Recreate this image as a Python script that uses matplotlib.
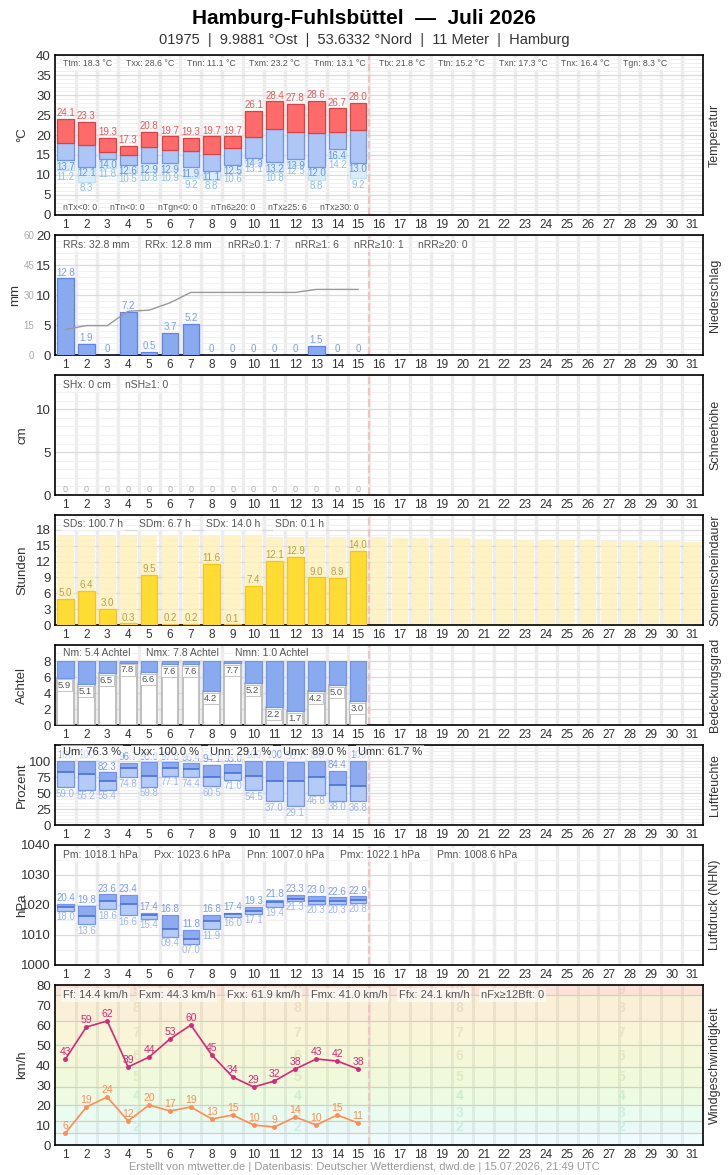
import numpy as np
import matplotlib
matplotlib.use("Agg")
import matplotlib.pyplot as plt
from matplotlib.ticker import MultipleLocator, FixedLocator

plt.rcParams['font.family'] = ['Liberation Sans', 'DejaVu Sans']

# ---------------- data ----------------
days = np.arange(1, 32)
obs = np.arange(1, 16)

# Temperatur
t_max = [24.1, 23.3, 19.3, 17.3, 20.8, 19.7, 19.3, 19.7, 19.7, 26.1, 28.4, 27.8, 28.6, 26.7, 28.0]
t_mean = [18.1, 17.4, 15.8, 15.1, 17.1, 16.3, 16.1, 15.3, 16.8, 19.6, 21.6, 20.8, 20.6, 20.8, 21.3]
t_min = [13.7, 12.1, 14.0, 12.6, 12.9, 12.9, 11.9, 11.1, 12.5, 14.3, 13.2, 13.9, 12.0, 16.4, 13.0]
t_gnd = [11.2, 8.3, 11.8, 10.5, 10.8, 10.9, 9.2, 8.8, 10.6, 13.1, 10.8, 12.5, 8.8, 14.2, 9.2]
temp_stats_top = ["Ttm: 18.3 °C", "Txx: 28.6 °C", "Tnn: 11.1 °C", "Txm: 23.2 °C", "Tnm: 13.1 °C",
                  "Ttx: 21.8 °C", "Ttn: 15.2 °C", "Txn: 17.3 °C", "Tnx: 16.4 °C", "Tgn: 8.3 °C"]
temp_stats_bot = ["nTx<0: 0", "nTn<0: 0", "nTgn<0: 0", "nTn6≥20: 0", "nTx≥25: 6", "nTx≥30: 0"]

# Niederschlag
rain = [12.8, 1.9, 0, 7.2, 0.5, 3.7, 5.2, 0, 0, 0, 0, 0, 1.5, 0, 0]
rain_stats = ["RRs: 32.8 mm", "RRx: 12.8 mm", "nRR≥0.1: 7", "nRR≥1: 6", "nRR≥10: 1", "nRR≥20: 0"]

# Schnee
snow = [0] * 15
snow_stats = ["SHx: 0 cm", "nSH≥1: 0"]

# Sonne
sun = [5.0, 6.4, 3.0, 0.3, 9.5, 0.2, 0.2, 11.6, 0.1, 7.4, 12.1, 12.9, 9.0, 8.9, 14.0]
sun_possible = [17.1, 17.0, 17.0, 17.0, 16.9, 16.9, 16.9, 16.8, 16.8, 16.8, 16.7, 16.7, 16.7, 16.6, 16.6,
                16.6, 16.5, 16.5, 16.4, 16.4, 16.3, 16.3, 16.1, 16.1, 16.1, 16.1, 15.9, 15.9, 15.9, 15.9, 15.7]
sun_stats = ["SDs: 100.7 h", "SDm: 6.7 h", "SDx: 14.0 h", "SDn: 0.1 h"]

# Bewoelkung
cloud = [5.9, 5.1, 6.5, 7.8, 6.6, 7.6, 7.6, 4.2, 7.7, 5.2, 2.2, 1.7, 4.2, 5.0, 3.0]
cloud_stats = ["Nm: 5.4 Achtel", "Nmx: 7.8 Achtel", "Nmn: 1.0 Achtel"]

# Luftfeuchte
rh_max = [100, 100, 82.3, 96.7, 98.0, 97.8, 96.4, 94.1, 95.0, 100, 100, 98.7, 100, 84.4, 100]
rh_mean = [83.3, 79.2, 69.3, 89.0, 77.0, 88.5, 87.0, 74.5, 80.7, 76.0, 69.3, 69.3, 74.5, 62.0, 61.7]
rh_min = [59.0, 55.2, 55.4, 74.8, 59.8, 77.1, 74.4, 60.5, 71.0, 54.5, 37.0, 29.1, 46.8, 38.0, 36.8]
rh_stats = ["Um: 76.3 %", "Uxx: 100.0 %", "Unn: 29.1 %", "Umx: 89.0 %", "Umn: 61.7 %"]

# Luftdruck
p_max = [1020.4, 1019.8, 1023.6, 1023.4, 1017.4, 1016.8, 1011.8, 1016.8, 1017.4, 1019.3, 1021.8, 1023.3, 1023.0, 1022.6, 1022.9]
p_mean = [1019.2, 1016.2, 1021.4, 1020.2, 1016.8, 1011.9, 1008.6, 1014.7, 1017.1, 1018.1, 1020.9, 1022.1, 1021.4, 1021.2, 1021.7]
p_min = [1018.0, 1013.6, 1018.6, 1016.6, 1015.4, 1009.4, 1007.0, 1011.9, 1016.0, 1017.1, 1019.4, 1021.3, 1020.3, 1020.3, 1020.8]
p_stats = ["Pm: 1018.1 hPa", "Pxx: 1023.6 hPa", "Pnn: 1007.0 hPa", "Pmx: 1022.1 hPa", "Pmn: 1008.6 hPa"]

# Wind
gust = [43, 59, 62, 39, 44, 53, 60, 45, 34, 29, 32, 38, 43, 42, 38]
wind = [6, 19, 24, 12, 20, 17, 19, 13, 15, 10, 9, 14, 10, 15, 11]
wind_stats = ["Ff: 14.4 km/h", "Fxm: 44.3 km/h", "Fxx: 61.9 km/h", "Fmx: 41.0 km/h", "Ffx: 24.1 km/h", "nFx≥12Bft: 0"]
bft_edges = [0, 6, 12, 20, 29, 39, 50, 62, 75, 80]
bft_numbers = [2, 3, 4, 5, 6, 7, 8, 9]

# ---------------- layout ----------------
W, H = 728, 1175
fig = plt.figure(figsize=(W / 100, H / 100), dpi=100)
fig.patch.set_facecolor('white')

TXT = '#333333'
BLUE_LBL = '#7a9bf0'


def panel(top, bottom, ylim, ylabel, rlabel, ticks, minor, grid=True, ylabel_x=22):
    ax = fig.add_axes([55 / W, 1 - bottom / H, 648 / W, (bottom - top) / H])
    ax.set_xlim(0.5, 31.5)
    ax.set_ylim(*ylim)
    ax.set_xticks(days)
    ax.yaxis.set_major_locator(FixedLocator(ticks))
    if grid:
        ax.yaxis.set_minor_locator(MultipleLocator(minor))
        ax.grid(which='major', axis='y', color='#dadada', lw=0.9, zorder=0)
        ax.grid(which='minor', axis='y', color='#f0f0f0', lw=0.7, zorder=0)
        for d in days[:-1]:
            ax.axvline(d + 0.5, color='#ececec', lw=2.5, zorder=0.5)
    ax.axvline(15.5, color='#f0c4c4', lw=1.5, ls='--', zorder=1)
    ax.set_axisbelow(True)
    ax.tick_params(which='both', length=0, colors=TXT)
    ax.tick_params(axis='y', labelsize=9.5, pad=3)
    ax.tick_params(axis='x', labelsize=8.5, pad=3)
    for sp in ax.spines.values():
        sp.set_color('black')
        sp.set_linewidth(1.2)
    fig.text(ylabel_x / W, 1 - (top + bottom) / 2 / H, ylabel, rotation=90, ha='center', va='center',
             fontsize=9.5, color=TXT)
    fig.text(715 / W, 1 - (top + bottom) / 2 / H, rlabel, rotation=90, ha='center', va='center',
             fontsize=9, color=TXT)
    return ax


def stats(ax, texts, xs, ypx, size=7.5, color='#555555'):
    h = ax.get_position().height * H
    for t, x in zip(texts, xs):
        ax.text((x - 55) / 648, 1 - ypx / h, t, transform=ax.transAxes, ha='left', va='center',
                fontsize=size, color=color, zorder=6,
                bbox=dict(boxstyle='square,pad=0.15', fc='white', ec='none', alpha=0.6))


# Title
fig.text(0.5, 1 - 18 / H, "Hamburg-Fuhlsbüttel  —  Juli 2026", ha='center', va='center',
         fontsize=15, fontweight='bold', color='black')
fig.text(0.5, 1 - 40 / H, "01975  |  9.9881 °Ost  |  53.6332 °Nord  |  11 Meter  |  Hamburg",
         ha='center', va='center', fontsize=10.5, color=TXT)

# ---- Temperatur ----
ax = panel(55, 215, (0, 40), '°C', 'Temperatur', range(0, 41, 5), 1)
tx, tm, tn, tg = map(np.array, (t_max, t_mean, t_min, t_gnd))
ax.bar(obs, tn - tg, bottom=tg, width=0.8, color='#d8ecf9', edgecolor='#c2e0f4', lw=0.8, zorder=2)
ax.bar(obs, tm - tn, bottom=tn, width=0.8, color='#aec6f5', edgecolor='#6f96e8', lw=0.9, zorder=3)
ax.bar(obs, tx - tm, bottom=tm, width=0.8, color='#ff6b6b', edgecolor='#d44444', lw=0.9, zorder=3)
for d, a, b, c in zip(obs, tx, tn, tg):
    ax.annotate(f"{a:.1f}", (d, a), xytext=(0, 0.5), textcoords='offset points', ha='center',
                va='bottom', fontsize=7, color='#e05a5a', zorder=5)
    ax.annotate(f"{b:.1f}", (d, b), xytext=(0, -1), textcoords='offset points', ha='center',
                va='top', fontsize=7, color='#6f92e0', zorder=5)
    ax.annotate(f"{c:.1f}", (d, c), xytext=(0, -1), textcoords='offset points', ha='center',
                va='top', fontsize=7, color='#8cbfe6', zorder=5)
stats(ax, temp_stats_top, [63, 126, 187, 249, 314, 379, 438, 499, 561, 623], 9, size=6.3)
stats(ax, temp_stats_bot, [63, 110, 158, 211, 268, 320], 153, size=6.3)

# ---- Niederschlag ----
ax = panel(235, 355, (0, 20), 'mm', 'Niederschlag', range(0, 21, 5), 1, ylabel_x=15)
ax.bar(obs, rain, width=0.8, color='#8aaaf0', edgecolor='#5f84e6', lw=0.9, zorder=3)
ax.plot(obs, np.cumsum(rain) / 3, color='#999999', lw=1, zorder=4)
for d, v in zip(obs, rain):
    ax.annotate(f"{v:g}", (d, v), xytext=(0, 0.5), textcoords='offset points', ha='center',
                va='bottom', fontsize=7, color=BLUE_LBL, zorder=5)
sec = ax.secondary_yaxis(-0.03, functions=(lambda y: y * 3, lambda y: y / 3))
sec.set_yticks([0, 15, 30, 45, 60])
sec.tick_params(length=0, labelsize=7, colors='#aaaaaa', pad=1)
sec.spines['left'].set_visible(False)
stats(ax, rain_stats, [63, 145, 228, 295, 354, 418], 10)

# ---- Schnee ----
ax = panel(375, 495, (0, 14), 'cm', 'Schneehöhe', [0, 5, 10], 1)
for d, v in zip(obs, snow):
    ax.annotate(f"{v:g}", (d, v), xytext=(0, 1), textcoords='offset points', ha='center',
                va='bottom', fontsize=6.5, color='#b0b0b0', zorder=5)
stats(ax, snow_stats, [63, 125], 10)

# ---- Sonne ----
ax = panel(515, 625, (0, 20.8), 'Stunden', 'Sonnenscheindauer', range(0, 19, 3), 1)
ax.bar(days, sun_possible, width=0.8, color='#fff1b8', alpha=0.8, lw=0, zorder=2)
ax.bar(obs, sun, width=0.8, color='#ffdc33', edgecolor='#f5c518', lw=0.9, zorder=3)
for d, v in zip(obs, sun):
    ax.annotate(f"{v:.1f}", (d, v), xytext=(0, 0.5), textcoords='offset points', ha='center',
                va='bottom', fontsize=7, color='#b8a04a', zorder=5)
stats(ax, sun_stats, [63, 139, 206, 275], 9)

# ---- Bewoelkung ----
ax = panel(645, 725, (0, 10), 'Achtel', 'Bedeckungsgrad', range(0, 9, 2), 1)
cl = np.array(cloud)
ax.bar(obs, cl, width=0.8, color='white', edgecolor='#b5b5b5', lw=1.2, zorder=3)
ax.bar(obs, 8 - cl, bottom=cl, width=0.8, color='#8aaaf0', edgecolor='#6f96e8', lw=0.9, zorder=3)
for d, v in zip(obs, cl):
    ax.annotate(f"{v:.1f}", (d - 0.36, v), xytext=(0, -2), textcoords='offset points', ha='left',
                va='top', fontsize=6.8, color='#555555', zorder=5,
                bbox=dict(boxstyle='square,pad=0.12', fc='white', ec='#bbbbbb', lw=0.6))
stats(ax, cloud_stats, [63, 146, 235], 8)

# ---- Luftfeuchte ----
ax = panel(745, 825, (0, 125), 'Prozent', 'Luftfeuchte', range(0, 101, 25), 5)
hx, hm, hn = map(np.array, (rh_max, rh_mean, rh_min))
ax.bar(obs, hx - hn, bottom=hn, width=0.8, color='#b5cbf7', lw=0, zorder=3)
ax.bar(obs, hx - hm, bottom=hm, width=0.8, color='#8eabf0', lw=0, zorder=3)
ax.bar(obs, hx - hn, bottom=hn, width=0.8, fill=False, edgecolor='#7396ea', lw=0.9, zorder=3)
ax.hlines(hm, obs - 0.4, obs + 0.4, color='#4a70d8', lw=1.2, zorder=4)
for d, a, b in zip(obs, hx, hn):
    ax.annotate(f"{a:.1f}" if a < 100 else "100", (d, a), xytext=(0, 0.5), textcoords='offset points',
                ha='center', va='bottom', fontsize=7, color=BLUE_LBL, zorder=5)
    ax.annotate(f"{b:.1f}", (d, b), xytext=(0, -1), textcoords='offset points', ha='center',
                va='top', fontsize=7, color='#9db5f0', zorder=5)
stats(ax, rh_stats, [63, 133, 210, 283, 358], 7, size=8, color='#333333')

# ---- Luftdruck ----
ax = panel(845, 965, (1000, 1040), 'hPa', 'Luftdruck (NHN)', range(1000, 1041, 10), 5)
px, pm, pn = map(np.array, (p_max, p_mean, p_min))
ax.bar(obs, px - pn, bottom=pn, width=0.8, color='#b5cbf7', lw=0, zorder=3)
ax.bar(obs, px - pm, bottom=pm, width=0.8, color='#8eabf0', lw=0, zorder=3)
ax.bar(obs, px - pn, bottom=pn, width=0.8, fill=False, edgecolor='#7396ea', lw=0.9, zorder=3)
ax.hlines(pm, obs - 0.4, obs + 0.4, color='#4a70d8', lw=1.2, zorder=4)
for d, a, b in zip(obs, px, pn):
    ax.annotate(f"{a % 100:04.1f}", (d, a), xytext=(0, 0.5), textcoords='offset points',
                ha='center', va='bottom', fontsize=7, color=BLUE_LBL, zorder=5)
    ax.annotate(f"{b % 100:04.1f}", (d, b), xytext=(0, -1), textcoords='offset points',
                ha='center', va='top', fontsize=7, color='#9db5f0', zorder=5)
stats(ax, p_stats, [63, 154, 247, 340, 437], 10)

# ---- Wind ----
ax = panel(985, 1145, (0, 80), 'km/h', 'Windgeschwindigkeit', range(0, 81, 10), 10, grid=False)
band_colors = ['#f0fbfd', '#e9f9f6', '#eafbf0', '#edfbe2', '#f0f9da', '#f4f7d8', '#f8f5d8', '#faf0d8', '#fbe4d6']
num_colors = ['#cdeee2', '#ceeedd', '#d0eecb', '#dcebc0', '#e6e6c2', '#e9e3c6', '#ebdec4', '#ebd4c4']
for lo, hi, c in zip(bft_edges[:-1], bft_edges[1:], band_colors):
    ax.axhspan(lo, hi, color=c, lw=0, zorder=0)
for e in bft_edges[1:-1]:
    ax.axhline(e, color='#cdd3c6', lw=0.9, zorder=0.6)
for d in days[:-1]:
    ax.axvline(d + 0.5, color='black', alpha=0.06, lw=2.2, zorder=0.5)
for n, lo, hi, c in zip(bft_numbers, bft_edges[1:-1], bft_edges[2:], num_colors):
    for xb in [4.4, 12.1, 19.85, 27.6]:
        ax.text(xb, (lo + hi) / 2, str(n), ha='center', va='center', fontsize=10, fontweight='bold',
                color=c, zorder=1)
ax.plot(obs, gust, color='#d4287a', lw=1.2, marker='o', ms=2.5, zorder=4)
ax.plot(obs, wind, color='#ff8c55', lw=1.2, marker='o', ms=2.5, zorder=4)
for d, a, b in zip(obs, gust, wind):
    ax.annotate(f"{a}", (d, a), xytext=(0, 1.5), textcoords='offset points', ha='center',
                va='bottom', fontsize=7.5, color='#d4287a', zorder=5)
    ax.annotate(f"{b}", (d, b), xytext=(0, 1.5), textcoords='offset points', ha='center',
                va='bottom', fontsize=7.5, color='#ff8c55', zorder=5)
stats(ax, wind_stats, [63, 139, 227, 311, 399, 481], 10, size=8)

fig.text(0.5, 1 - 1167 / H,
         "Erstellt von mtwetter.de | Datenbasis: Deutscher Wetterdienst, dwd.de | 15.07.2026, 21:49 UTC",
         ha='center', va='center', fontsize=8, color='#999999')

fig.savefig('out.png', dpi=100)
